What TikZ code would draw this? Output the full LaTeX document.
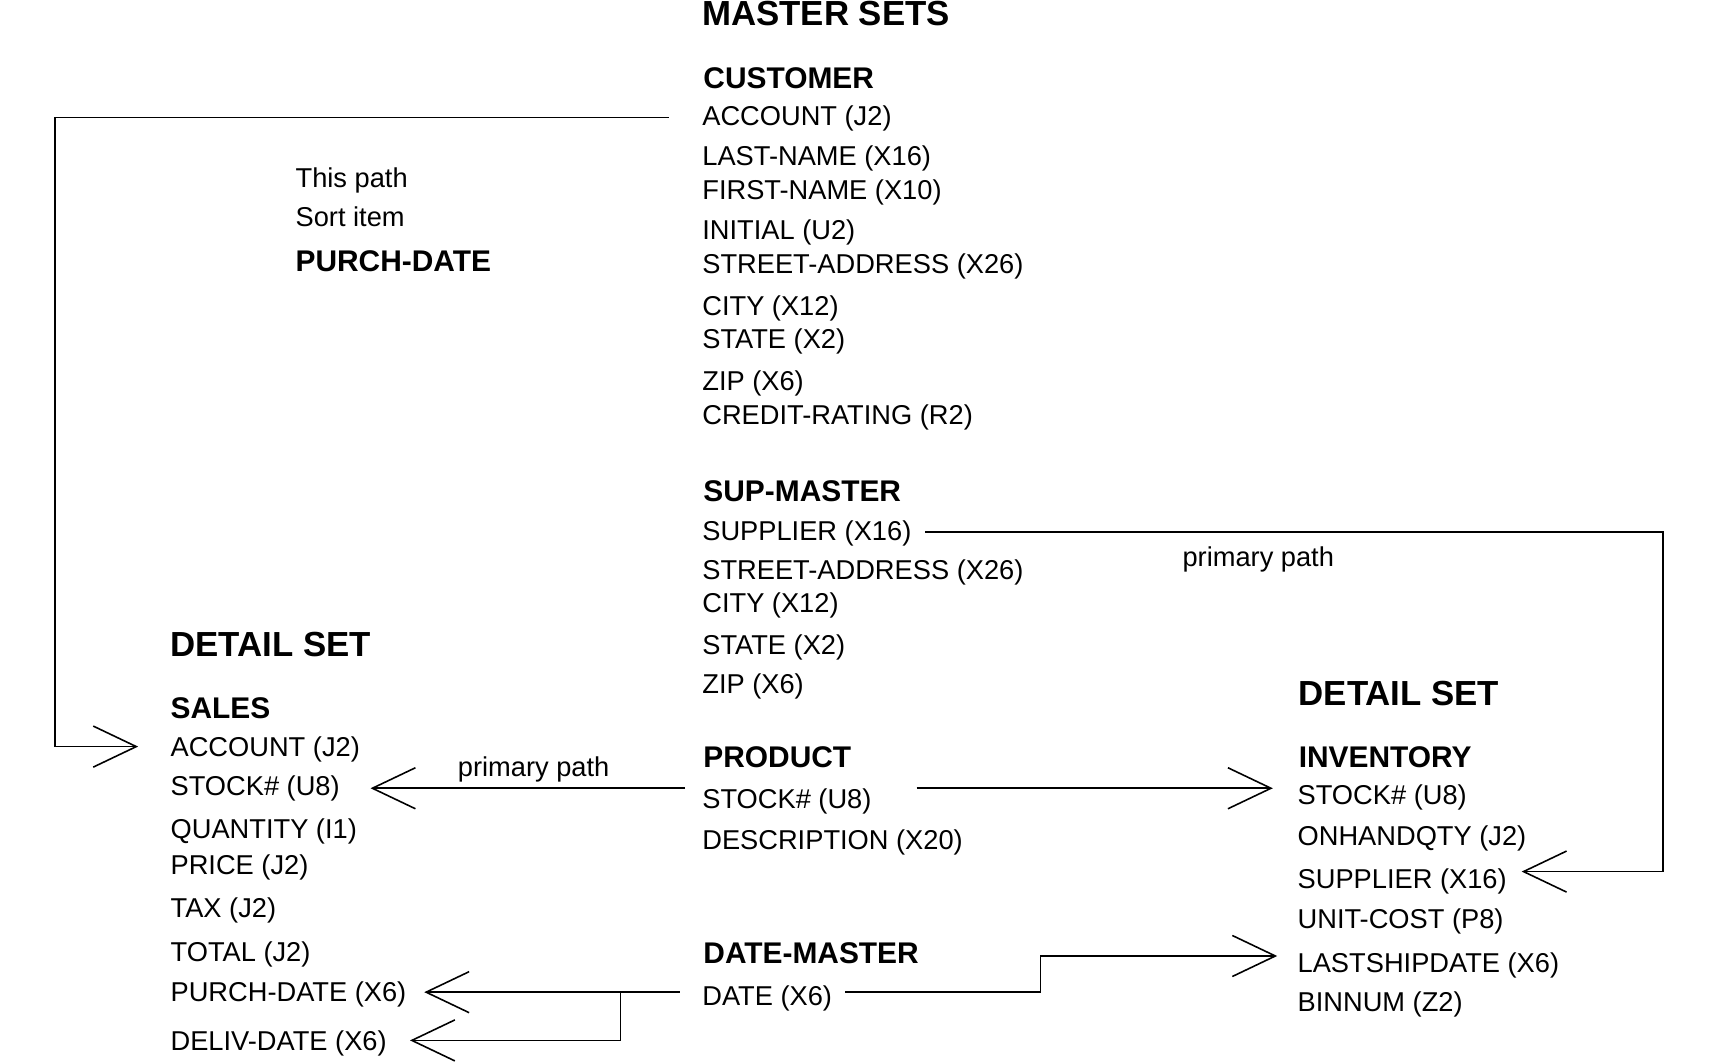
\documentclass[tikz,border=0pt]{standalone}
\usepackage{fontspec}
\setmainfont{Liberation Sans}
\usetikzlibrary{arrows.meta,calc}

\tikzstyle{field} = [anchor=west, inner sep=0pt, text height=5.5pt, text depth=0pt, font=\fontsize{7.75}{9}\selectfont]
\tikzstyle{record} = [field, text height=6.1pt, font=\fontsize{8.5}{10}\selectfont\bfseries]
\tikzstyle{heading} = [field, text height=7.1pt, font=\fontsize{9.9}{12}\selectfont\bfseries]
\tikzstyle{link} = [line width=0.45pt]
\tikzstyle{pointer} = [link, -{Straight Barb[length=4.3mm, width=4.1mm]}]

\begin{document}
\begin{tikzpicture}[x=0.010963cm, y=-0.010963cm]
\useasboundingbox (0,0) rectangle (1568,968);
%master sets
\node[heading] (mastersets) at (640,12) {MASTER SETS};
%begin customer
\node[record] (customer) at (641,71) {CUSTOMER};
\node[field] (cacct) at (640,106) {ACCOUNT (J2)};
\node[field] (clast) at (640,142) {LAST-NAME (X16)};
\node[field] (cfirst) at (640,173) {FIRST-NAME (X10)};
\node[field] (cinit) at (640,210) {INITIAL (U2)};
\node[field] (cstreet) at (640,241) {STREET-ADDRESS (X26)};
\node[field] (ccity) at (640,279) {CITY (X12)};
\node[field] (cstate) at (640,309) {STATE (X2)};
\node[field] (czip) at (640,347) {ZIP (X6)};
\node[field] (ccredit) at (640,378) {CREDIT-RATING (R2)};
%end customer
%begin sup-master
\node[record] (supmaster) at (641,448) {SUP-MASTER};
\node[field] (supsupplier) at (640,484) {SUPPLIER (X16)};
\node[field] (supstreet) at (640,520) {STREET-ADDRESS (X26)};
\node[field] (supcity) at (640,550) {CITY (X12)};
\node[field] (supstate) at (640,588) {STATE (X2)};
\node[field] (supzip) at (640,624) {ZIP (X6)};
%end sup-master
%begin product
\node[record] (product) at (641,690) {PRODUCT};
\node[field] (pstock) at (640,729) {STOCK\# (U8)};
\node[field] (pdesc) at (640,766) {DESCRIPTION (X20)};
%end product
%begin date-master
\node[record] (datemaster) at (641,869) {DATE-MASTER};
\node[field] (ddate) at (640,908) {DATE (X6)};
%end date-master
%begin sort item
\node[field] (thispath) at (269,162) {This path};
\node[field] (sortitem) at (269,198) {Sort item};
\node[record] (sortkey) at (269,238) {PURCH-DATE};
%end sort item
%begin sales
\node[heading] (salesset) at (155,587) {DETAIL SET};
\node[record] (sales) at (155,646) {SALES};
\node[field] (salesacct) at (155,681) {ACCOUNT (J2)};
\node[field] (salesstock) at (155,717) {STOCK\# (U8)};
\node[field] (salesqty) at (155,756) {QUANTITY (I1)};
\node[field] (salesprice) at (155,789) {PRICE (J2)};
\node[field] (salestax) at (155,828) {TAX (J2)};
\node[field] (salestotal) at (155,868) {TOTAL (J2)};
\node[field] (salespurch) at (155,905) {PURCH-DATE (X6)};
\node[field] (salesdeliv) at (155,949) {DELIV-DATE (X6)};
%end sales
%begin inventory
\node[heading] (invset) at (1184,632) {DETAIL SET};
\node[record] (inventory) at (1184,690) {INVENTORY};
\node[field] (invstock) at (1183,725) {STOCK\# (U8)};
\node[field] (invqty) at (1183,762) {ONHANDQTY (J2)};
\node[field] (invsupplier) at (1183,802) {SUPPLIER (X16)};
\node[field] (invcost) at (1183,838) {UNIT-COST (P8)};
\node[field] (invship) at (1183,878) {LASTSHIPDATE (X6)};
\node[field] (invbin) at (1183,914) {BINNUM (Z2)};
%end inventory
%path labels
\node[field] (suppath) at (1078,508) {primary path};
\node[field] (prodpath) at (417,699) {primary path};
%begin paths
\draw[pointer] ($(cacct.west)+(-30,1)$) -| ($(salesacct.west)+(-105,0)$) -- ($(salesacct.west)+(-29,0)$);
\draw[pointer] ($(supsupplier.west)+(204,1)$) -| ($(invsupplier.west)+(334,-7)$) -- ($(invsupplier.west)+(205,-7)$);
\draw[pointer] ($(pstock.west)+(-15,-10)$) -- ($(salesstock.west)+(183,2)$);
\draw[pointer] ($(pstock.west)+(196,-10)$) -- ($(invstock.west)+(-22,-6)$);
\draw[pointer] ($(ddate.west)+(-20,-3)$) -- ($(salespurch.west)+(232,0)$);
\draw[pointer] ($(ddate.west)+(-74,-3)$) |- ($(salesdeliv.west)+(219,0)$);
\draw[pointer] ($(ddate.west)+(131,-3)$) -| ($(invship.west)+(-234,-6)$) -- ($(invship.west)+(-18,-6)$);
%end paths
\end{tikzpicture}
\end{document}
